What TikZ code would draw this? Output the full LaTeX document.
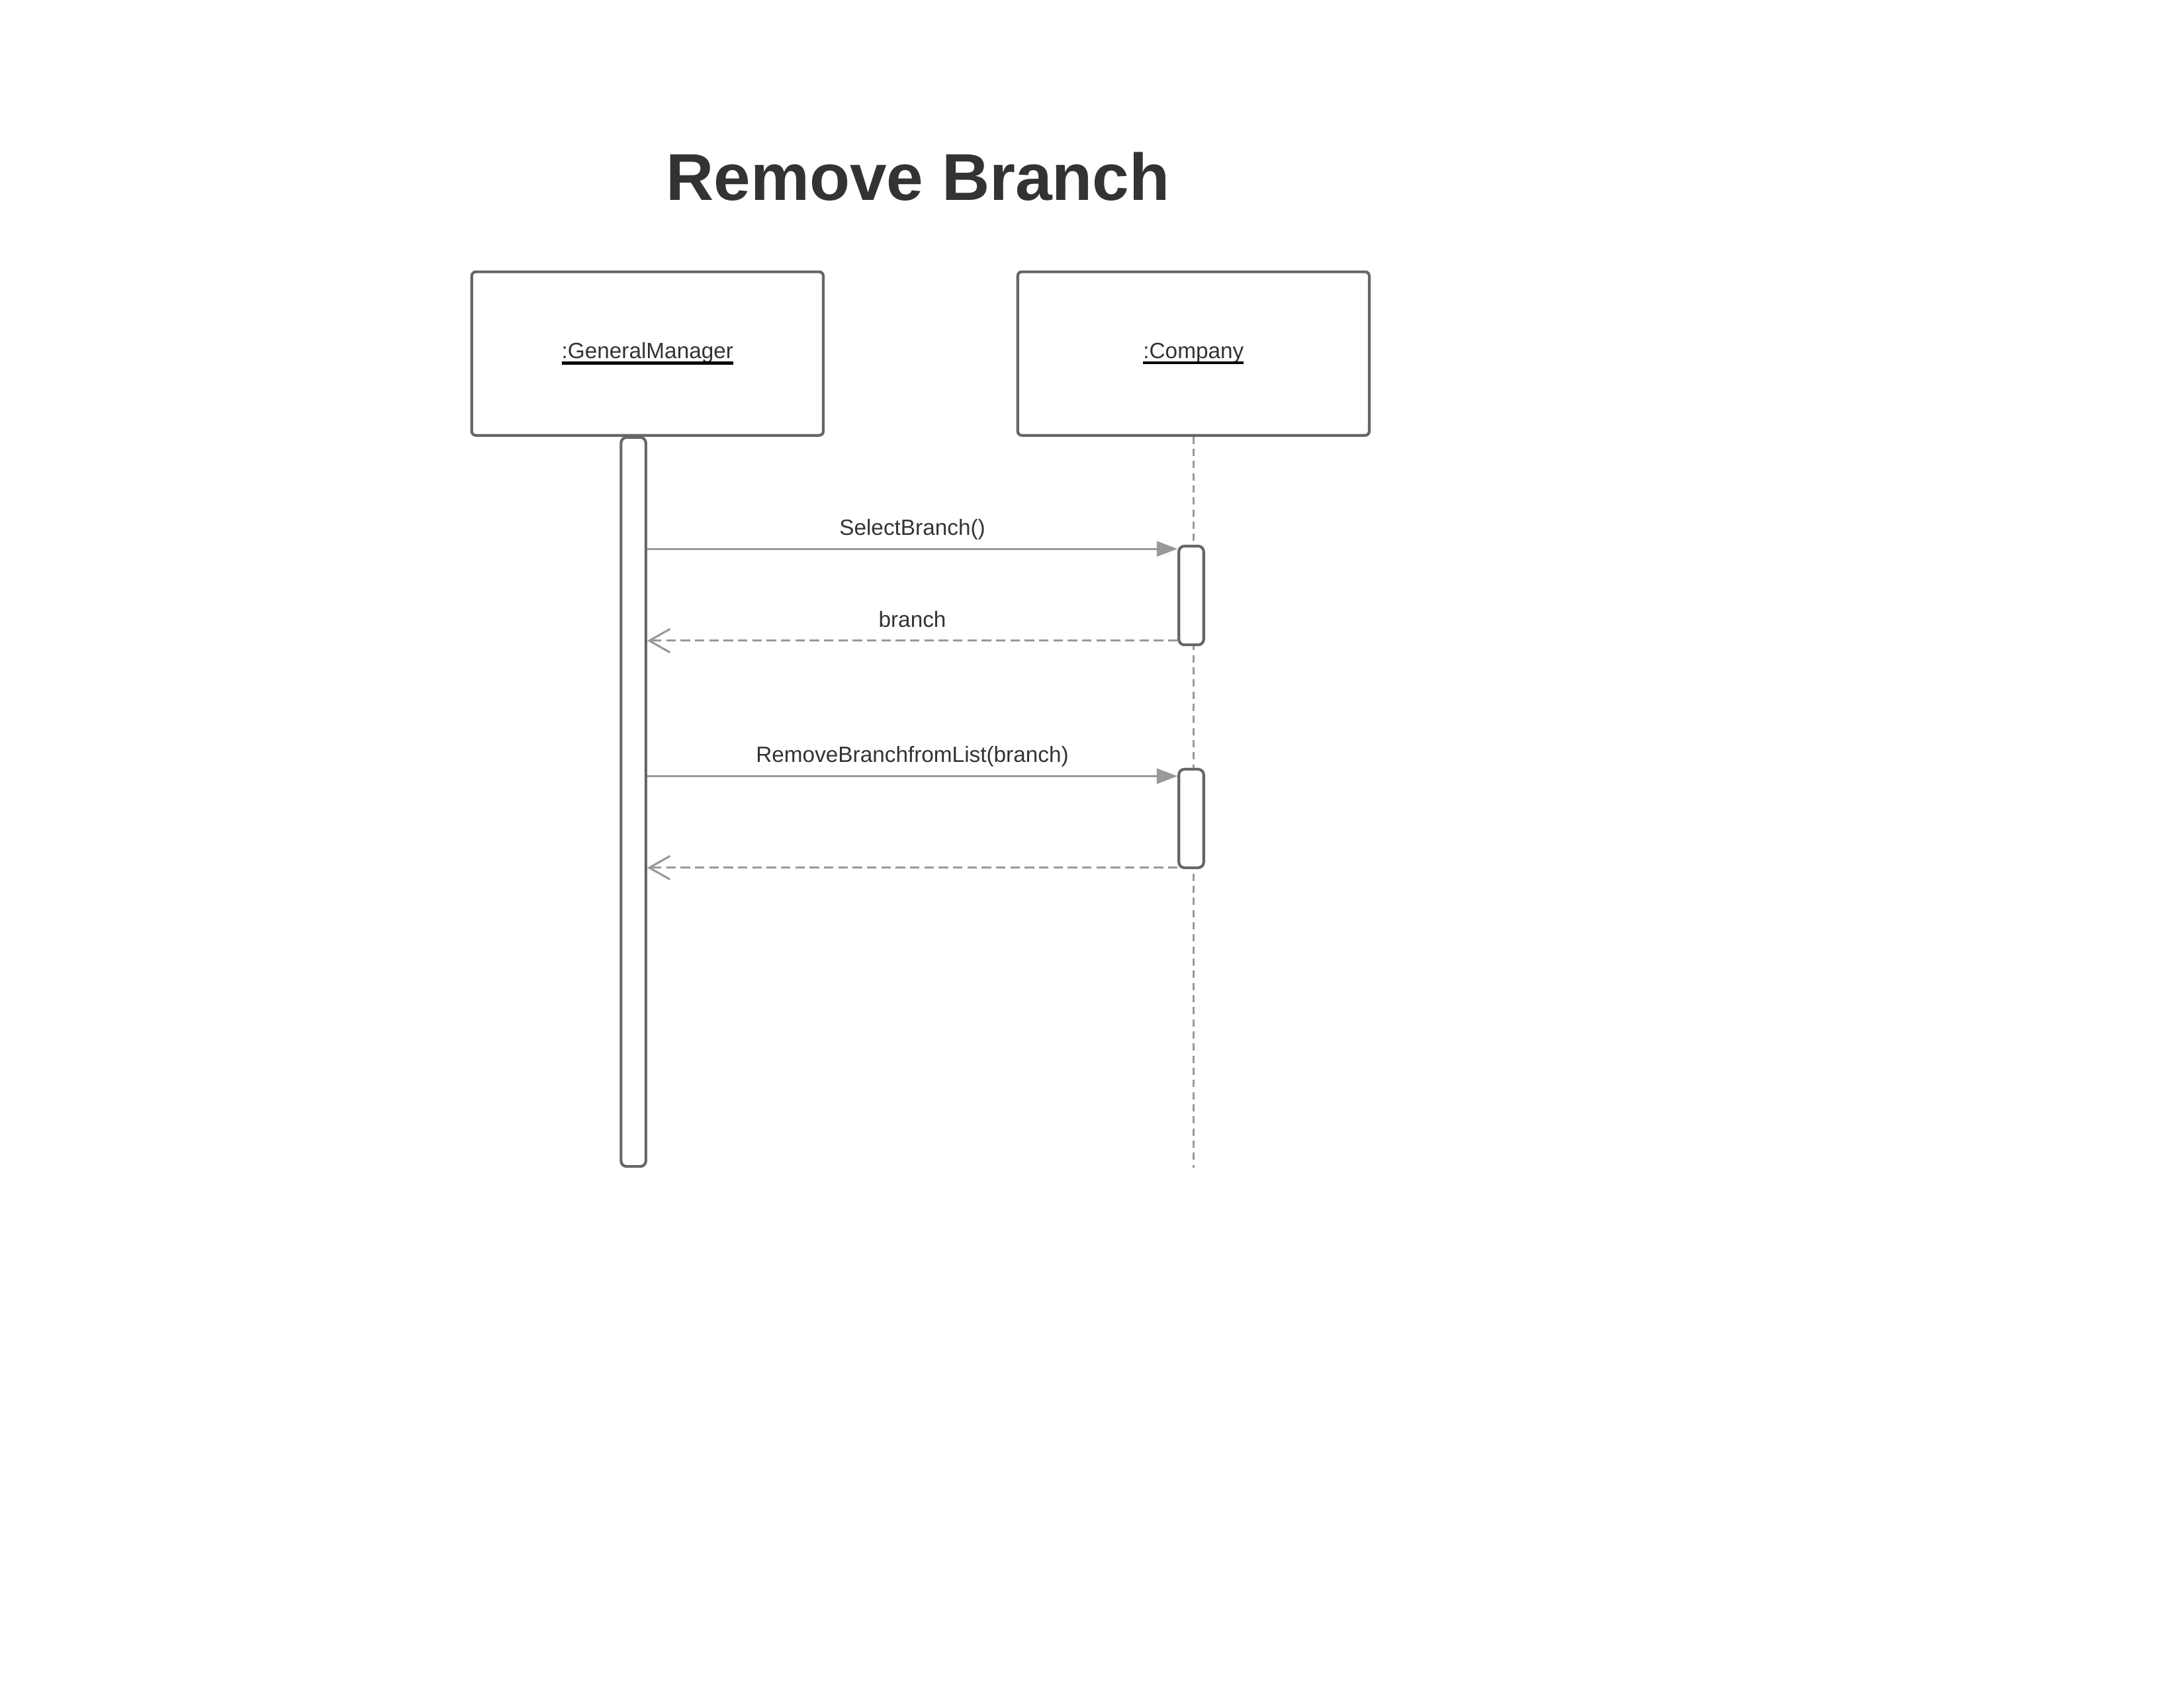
\documentclass[tikz,border=0pt]{standalone}
\usepackage{fontspec}
\setmainfont{Liberation Sans}
\usetikzlibrary{arrows.meta}
\definecolor{boxgray}{HTML}{666666}
\definecolor{linegray}{HTML}{999999}
\definecolor{textgray}{HTML}{333333}
\tikzset{objbox/.style = {draw=boxgray, line width=1pt, rounded corners=1.5pt,
                          minimum width=127.5pt, minimum height=59.3pt,
                          text=textgray, font=\fontsize{8}{10}\selectfont}}
\tikzset{actbox/.style = {draw=boxgray, fill=white, line width=1pt, rounded corners=2pt,
                          inner sep=0, minimum width=9pt}}
\tikzset{msg/.style = {draw=linegray, line width=0.7pt,
                       -{Triangle[length=7.5pt,width=5.5pt]}}}
\tikzset{ret/.style = {draw=linegray, line width=0.75pt, dash pattern=on 3.4pt off 1.8pt,
                       -{Straight Barb[length=7.5pt,width=8.5pt]}}}
\tikzset{life/.style = {draw=linegray, line width=0.8pt, dash pattern=on 2.6pt off 1.8pt}}
\tikzset{msglabel/.style = {text=textgray, font=\fontsize{8}{10}\selectfont,
                            inner sep=2.8pt, text depth=1.8pt}}
\tikzset{title/.style = {text=textgray, font=\fontsize{24}{29}\selectfont\bfseries}}
\newcommand{\objname}[1]{\setbox0\hbox{#1}\rlap{\usebox0}\textcolor{black}{\rule[-2.1pt]{\wd0}{1pt}}}

\begin{document}
\begin{tikzpicture}[x=1pt, y=-1pt]
    \useasboundingbox (0, 0) rectangle (792, 612);
    \node [title] (title) at (332.9, 64.1) {Remove Branch};
    \node [objbox] (gm) at (234.8, 128.2) {\objname{:GeneralManager}};
    \node [objbox] (co) at (432.8, 128.2) {\objname{:Company}};
    \node [actbox, minimum height=264.3pt] (gmact) at (229.7, 290.75) {};
    \draw [life] (co.south) -- (co.south |- gmact.south);
    \node [actbox, minimum height=35.8pt] (coact1) at (432, 215.9) {};
    \node [actbox, minimum height=35.7pt] (coact2) at (432, 296.75) {};
    \draw [msg] ([yshift=-1.5pt]coact1.north west -| gmact.east) -- node [msglabel, above] (m1) {SelectBranch()} ([yshift=-1.5pt]coact1.north west);
    \draw [ret] ([yshift=2pt]coact1.south west) -- node [msglabel, above] (r1) {branch} ([yshift=2pt]coact1.south west -| gmact.east);
    \draw [msg] ([yshift=-3pt]coact2.north west -| gmact.east) -- node [msglabel, above] (m2) {RemoveBranchfromList(branch)} ([yshift=-3pt]coact2.north west);
    \draw [ret] ([yshift=0.5pt]coact2.south west) -- ([yshift=0.5pt]coact2.south west -| gmact.east);
  \end{tikzpicture}
\end{document}
